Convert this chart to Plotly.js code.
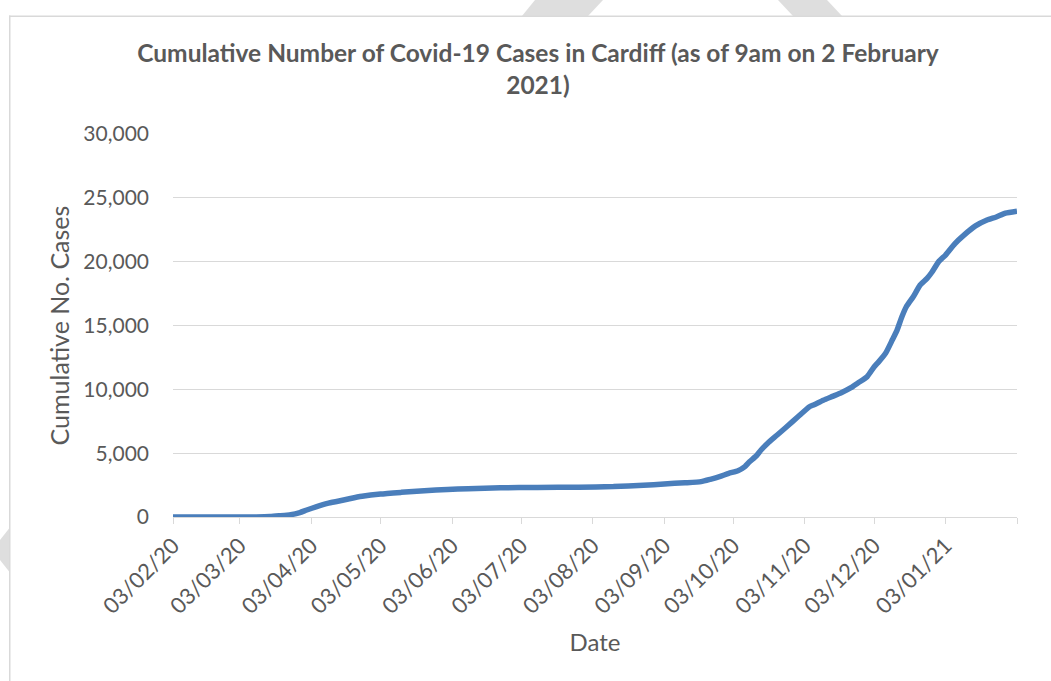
<!DOCTYPE html>
<html>
<head>
<meta charset="utf-8">
<script src="https://cdn.plot.ly/plotly-3.0.1.min.js"></script>
<style>html,body{margin:0;padding:0;background:#fff;}#chart{width:1051px;height:681px;}</style>
</head>
<body>
<div id="chart"></div>
<script>
// ---- data ----
const dates = [
  '2020-02-03','2020-02-20','2020-03-03','2020-03-10','2020-03-16','2020-03-20','2020-03-25','2020-03-29',
  '2020-04-01','2020-04-05','2020-04-10','2020-04-15','2020-04-20','2020-04-25','2020-05-03','2020-05-12',
  '2020-05-22','2020-06-01','2020-06-10','2020-06-24','2020-07-10','2020-07-28','2020-08-12','2020-08-25',
  '2020-09-03','2020-09-12','2020-09-19','2020-09-23','2020-09-27','2020-10-01','2020-10-05','2020-10-08',
  '2020-10-10','2020-10-13','2020-10-15','2020-10-18','2020-10-22','2020-10-26','2020-10-31','2020-11-05',
  '2020-11-07','2020-11-11','2020-11-15','2020-11-19','2020-11-23','2020-11-26','2020-11-30','2020-12-03',
  '2020-12-05','2020-12-08','2020-12-11','2020-12-13','2020-12-15','2020-12-17','2020-12-20','2020-12-23',
  '2020-12-26','2020-12-28','2020-12-31','2021-01-03','2021-01-07','2021-01-11','2021-01-16','2021-01-21',
  '2021-01-25','2021-01-29','2021-02-03'
];
const cases = [
  0, 0, 0, 5, 30, 90, 180, 350,
  550, 800, 1070, 1250, 1450, 1620, 1800, 1930,
  2060, 2150, 2215, 2290, 2320, 2340, 2380, 2480,
  2590, 2680, 2770, 2950, 3160, 3420, 3630, 3950,
  4330, 4800, 5250, 5800, 6420, 7050, 7850, 8640,
  8800, 9150, 9450, 9750, 10130, 10500, 10990, 11750,
  12150, 12820, 13900, 14640, 15650, 16470, 17250, 18170,
  18690, 19150, 19990, 20520, 21400, 22080, 22800, 23260,
  23500, 23800, 23960
];
const tickDates = ['2020-02-03','2020-03-03','2020-04-03','2020-05-03','2020-06-03','2020-07-03',
  '2020-08-03','2020-09-03','2020-10-03','2020-11-03','2020-12-03','2021-01-03','2021-02-03'];
const tickLabels = ['03/02/20','03/03/20','03/04/20','03/05/20','03/06/20','03/07/20',
  '03/08/20','03/09/20','03/10/20','03/11/20','03/12/20','03/01/21',''];
const yTicks = [0, 5000, 10000, 15000, 20000, 25000, 30000];
const yTickLabels = ['0','5,000','10,000','15,000','20,000','25,000','30,000'];

const titleText = 'Cumulative Number of Covid-19 Cases in Cardiff (as of 9am on 2 February<br>2021)';
const xTitle = 'Date';
const yTitle = 'Cumulative No. Cases';

// ---- layout helpers (pixel -> paper) ----
const W = 1051, H = 681;
const M = {l: 173, r: 34, t: 134, b: 164};
const PW = W - M.l - M.r, PH = H - M.t - M.b;
const px = x => (x - M.l) / PW;
const py = y => (H - M.b - y) / PH;

const FONT = 'Lato, "Liberation Sans", sans-serif';
const TXT = '#595959';
const GRID = '#d9d9d9';
const WM = '#dedede';

const trace = {
  x: dates, y: cases, type: 'scatter', mode: 'lines',
  line: {color: '#4a7ebb', width: 5.5, shape: 'spline', smoothing: 0.5},
  hoverinfo: 'skip'
};

// decorative watermark pieces and chart-area border, as filled paper-space polygons
function polyShape(pts, fill) {
  return {
    type: 'path', xref: 'paper', yref: 'paper', layer: 'below',
    path: 'M ' + pts.map(p => px(p[0]).toFixed(5) + ' ' + py(p[1]).toFixed(5)).join(' L ') + ' Z',
    fillcolor: fill, line: {width: 0}
  };
}

const layout = {
  width: W, height: H,
  margin: {l: M.l, r: M.r, t: M.t, b: M.b, pad: 0},
  paper_bgcolor: '#ffffff', plot_bgcolor: '#ffffff',
  showlegend: false,
  font: {family: FONT, color: TXT},
  title: {
    text: titleText,
    font: {family: FONT, size: 24.5, color: TXT, weight: 'bold'},
    xref: 'container', x: 538 / W, xanchor: 'center',
    yref: 'container', y: 1 - 62 / H, yanchor: 'top'
  },
  xaxis: {
    type: 'date',
    range: ['2020-02-03', '2021-02-03'],
    tickmode: 'array', tickvals: tickDates, ticktext: tickLabels,
    tickangle: -45,
    tickfont: {family: FONT, size: 22, color: TXT},
    ticks: 'outside', ticklen: 6, tickcolor: GRID, tickwidth: 1,
    showline: true, linecolor: GRID, linewidth: 1,
    showgrid: false, zeroline: false,
    title: {text: xTitle, font: {family: FONT, size: 24, color: TXT}, standoff: 16}
  },
  yaxis: {
    range: [0, 30000],
    tickmode: 'array', tickvals: yTicks, ticktext: yTickLabels,
    tickfont: {family: FONT, size: 21, color: TXT},
    ticks: '', ticklabelstandoff: 23,
    showgrid: true, gridcolor: GRID, gridwidth: 1,
    showline: false, zeroline: false,
    title: {text: yTitle, font: {family: FONT, size: 25, color: TXT}, standoff: 6}
  },
  shapes: [
    polyShape([[535, 0], [603, 0], [588, 16], [522, 16]], WM),
    polyShape([[778, 0], [827, 0], [842, 16], [793, 16]], WM),
    polyShape([[0, 540], [9.5, 528], [9.5, 572], [0, 560]], WM),
    // border: top and left edges as thin filled strips
    polyShape([[9, 15.5], [1060, 15.5], [1060, 17], [9, 17]], GRID),
    polyShape([[9, 15.5], [10.5, 15.5], [10.5, 700], [9, 700]], GRID)
  ]
};

Plotly.newPlot('chart', [trace], layout, {displayModeBar: false, staticPlot: true});
</script>
</body>
</html>
